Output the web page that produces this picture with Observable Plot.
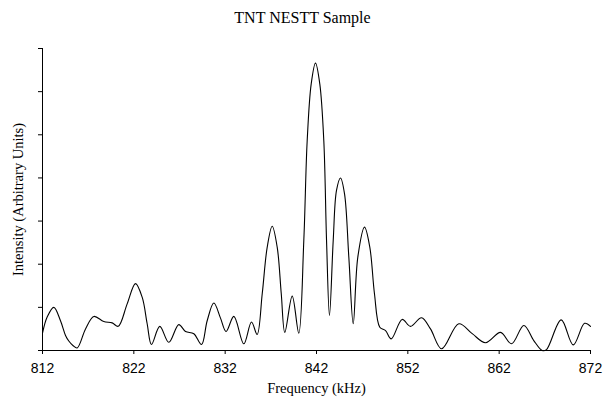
<!DOCTYPE html>
<html>
<head>
<meta charset="utf-8">
<script src="https://cdn.jsdelivr.net/npm/d3@7"></script>
<script src="https://cdn.jsdelivr.net/npm/@observablehq/plot@0.6"></script>
<style>
  html, body { margin: 0; padding: 0; background: #fff; }
  #title { width: 605px; height: 20px; padding-top: 10px; line-height: 16px; font-size: 16px;
           text-align: center; font-family: "Liberation Serif", "Times New Roman", serif; color: #000; }
</style>
</head>
<body>
<div id="title">TNT NESTT Sample</div>
<div id="chart"></div>
<script>
const titleText = "TNT NESTT Sample";
const xLabel = "Frequency (kHz)";
const yLabel = "Intensity (Arbitrary Units)";
const xTicks = [812, 822, 832, 842, 852, 862, 872];
const yTicks = [0, 1, 2, 3, 4, 5, 6, 7];

const freq = [
  812.0, 812.5, 813.24, 813.97, 814.52, 814.88, 815.36, 815.8, 816.71, 817.62,
  818.71, 819.63, 820.29, 821.27, 822.18, 822.92, 823.46, 823.93, 824.84, 825.83,
  826.92, 827.66, 828.57, 829.41, 830.03, 830.76, 831.49, 832.1, 832.95, 834.04,
  834.88, 835.5, 836.06, 836.6, 837.15, 837.7, 838.14, 838.53, 839.34, 840.06,
  840.61, 840.98, 841.42, 841.89, 842.36, 842.8, 843.1, 843.42, 843.83, 844.19,
  844.63, 845.07, 845.54, 846.02, 846.52, 847.26, 847.84, 848.35, 848.93, 849.56,
  850.18, 851.38, 852.29, 853.5, 854.48, 855.7, 857.58, 859.05, 860.51, 862.15,
  863.35, 864.7, 865.79, 866.71, 867.18, 868.79, 870.11, 871.35, 872.0
];
const intensity = [
  0.40, 0.77, 1.00, 0.69, 0.35, 0.22, 0.11, 0.06, 0.50, 0.79,
  0.67, 0.64, 0.56, 1.08, 1.55, 1.23, 0.62, 0.14, 0.56, 0.19,
  0.60, 0.44, 0.39, 0.14, 0.69, 1.10, 0.75, 0.44, 0.79, 0.155,
  0.66, 0.37, 1.32, 2.39, 2.88, 2.39, 1.32, 0.42, 1.26, 0.40,
  2.55, 4.86, 6.18, 6.66, 6.18, 4.86, 2.55, 0.81, 2.55, 3.71,
  4.00, 3.63, 2.16, 0.62, 2.16, 2.86, 2.39, 1.31, 0.54, 0.46,
  0.27, 0.72, 0.56, 0.76, 0.50, 0.04, 0.62, 0.39, 0.18, 0.42,
  0.155, 0.58, 0.23, 0.0, 0.02, 0.71, 0.13, 0.63, 0.56
];

const data = freq.map((f, i) => ({f, v: intensity[i]}));
const serif = '"Liberation Serif", "Times New Roman", serif';
const sans = '"Liberation Sans", Arial, sans-serif';

const chart = Plot.plot({
  width: 605,
  height: 372,
  marginTop: 18,
  marginBottom: 52,
  marginLeft: 42,
  marginRight: 15,
  style: {background: "#fff", color: "#000"},
  x: {domain: [812, 872]},
  y: {domain: [0, 7]},
  marks: [
    Plot.axisX({ticks: xTicks, tickSize: 4, tickPadding: 9, label: null,
                fontSize: 14, fontFamily: sans, tickFormat: d => String(d)}),
    Plot.axisY({ticks: yTicks, tickSize: 4, label: null, tickFormat: () => ""}),
    Plot.ruleY([0], {stroke: "#000", strokeWidth: 1}),
    Plot.ruleX([812], {stroke: "#000", strokeWidth: 1}),
    Plot.line(data, {x: "f", y: "v", curve: "catmull-rom", stroke: "#000", strokeWidth: 1.1}),
    Plot.text([xLabel], {frameAnchor: "bottom", dy: 42, fontSize: 14.5, fontFamily: serif, fill: "#000"}),
    Plot.text([yLabel], {frameAnchor: "left", textAnchor: "middle", rotate: -90, dx: -24, fontSize: 14.5, fontFamily: serif, fill: "#000"})
  ]
});
document.getElementById("chart").appendChild(chart);
</script>
</body>
</html>
